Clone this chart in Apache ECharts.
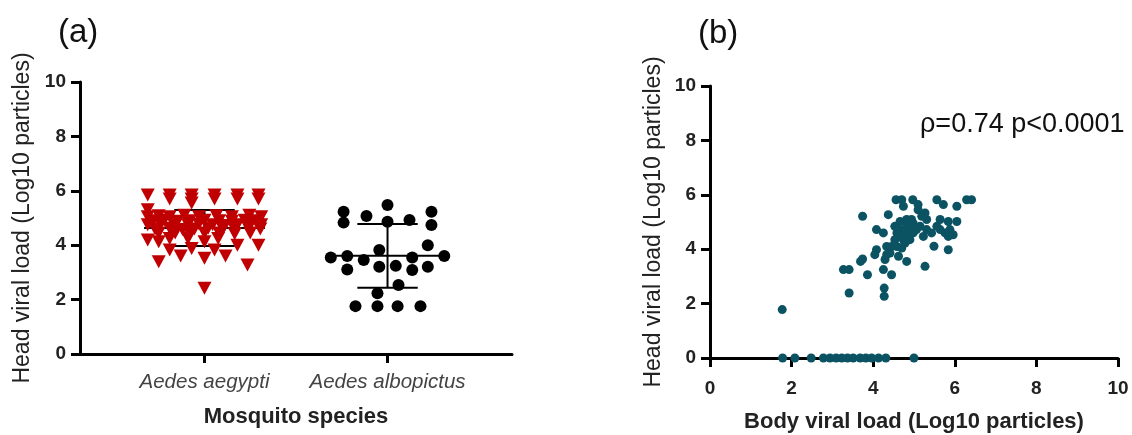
<!DOCTYPE html>
<html>
<head>
<meta charset="utf-8">
<script src="https://cdn.jsdelivr.net/npm/echarts@6/dist/echarts.min.js"></script>
<style>
html,body{margin:0;padding:0;background:#fff;}
#chart{width:1132px;height:435px;}
</style>
</head>
<body>
<div id="chart"></div>
<script>
// ---------- Data ----------
const speciesNames = ['Aedes aegypti', 'Aedes albopictus'];
const yTicks = [0, 2, 4, 6, 8, 10];
const xTicksB = [0, 2, 4, 6, 8, 10];

// Panel (a): Aedes aegypti head viral load (jitter offset in category units, value)
const aegyptiJitter = [
  -0.31,-0.19,-0.07,0.055,0.18,0.295,
  -0.19,-0.07,0.055,0.18,0.295,
  -0.07,
  -0.31,
  -0.31,-0.25,-0.19,-0.11,-0.03,0.065,0.15,0.245,0.31,
  -0.28,-0.22,-0.15,-0.08,0,0.08,0.15,0.22,0.28,
  -0.31,-0.24,-0.16,-0.09,-0.03,0.045,0.11,0.18,0.25,0.31,
  -0.27,-0.19,-0.12,-0.055,0.02,0.1,0.165,0.24,0.305,
  -0.25,-0.16,-0.08,0,0.08,0.165,0.25,
  -0.19,-0.09,0.075,
  -0.31,
  -0.25,0,
  0.18,0.295,
  -0.07,
  -0.19,0.055,
  -0.13,0.115,
  -0.25,0,
  0.235,
  0
];
const aegyptiValues = [
  5.85,5.85,5.85,5.85,5.85,5.85,
  5.7,5.7,5.7,5.7,5.7,
  5.55,
  5.3,
  5.05,5.08,5.05,5.1,5.05,5.08,5.05,5.1,5.05,
  4.9,4.92,4.88,4.9,4.92,4.9,4.88,4.92,4.9,
  4.75,4.78,4.72,4.75,4.78,4.75,4.72,4.75,4.78,4.75,
  4.6,4.62,4.58,4.6,4.62,4.6,4.58,4.62,4.6,
  4.45,4.45,4.42,4.45,4.45,4.42,4.45,
  4.25,4.25,4.25,
  4.19,
  4.13,4.13,
  4.0,4.0,
  3.88,
  3.82,3.82,
  3.6,3.6,
  3.39,3.52,
  3.27,
  2.42
];

// Panel (a): Aedes albopictus head viral load
const albopictusJitter = [
  0,-0.24,-0.24,-0.115,0,0.12,0.24,0.24,
  -0.31,-0.22,-0.13,-0.045,0.22,0.31,0.135,
  -0.22,-0.045,0.045,0.135,0.22,
  0.06,-0.055,
  -0.175,-0.055,0.055,0.18
];
const albopictusValues = [
  5.48,5.23,4.83,5.07,4.86,4.93,5.23,4.74,
  3.55,3.6,3.46,3.82,4.0,3.6,3.55,
  3.11,3.21,3.24,3.09,3.21,
  2.54,2.23,
  1.76,1.76,1.76,1.76
];

// Panel (a): mean and SD
const groupMeans = [4.63, 3.61];
const groupSD = [0.66, 1.17];

// Panel (b): body vs head viral load
const bodyLoad = [
  1.78,2.08,2.48,2.78,2.94,3.09,3.23,3.37,3.51,3.68,3.82,3.96,4.13,4.31,5.0,
  1.77,3.41,4.27,4.27,3.27,3.41,3.86,3.69,3.74,3.74,5.27,5.84,5.49,4.37,
  4.56,4.7,4.97,5.56,6.29,6.41,5.72,6.05,4.74,5.1,
  4.08,4.25,4.08,4.04,4.33,4.41,4.29,4.45,4.25,4.62,4.82,4.58,4.74,4.66,4.82,
  4.98,5.15,5.31,5.43,5.19,5.31,5.27,5.1,5.64,5.84,6.05,5.88,5.76,5.84,5.96,
  5.64,4.74,4.66,4.82,4.9,4.98,4.58,4.53,4.7,4.78,4.9,5.06,4.66,4.82,4.94,
  4.53,4.9,4.78,5.23,5.56,4.45,4.33
];
const headLoad = [
  0,0,0,0,0,0,0,0,0,0,0,0,0,0,0,
  1.78,2.39,2.57,2.27,3.25,3.25,3.06,3.55,3.64,5.21,3.37,3.98,4.11,5.27,
  5.82,5.82,5.82,5.82,5.82,5.82,5.64,5.58,5.58,5.64,
  4.72,4.6,3.98,3.8,4.1,3.86,3.62,3.06,3.25,3.74,3.55,4.1,4.35,4.72,4.84,
  4.96,4.84,4.72,4.6,5.21,5.09,5.33,5.45,5.09,5.02,5.02,4.72,4.6,4.47,4.53,
  4.72,4.6,4.47,4.47,4.6,4.6,4.6,4.35,4.04,4.23,4.35,4.72,5.02,5.09,5.09,
  4.84,4.84,4.72,4.47,4.84,4.1,3.8
];

const corrText = 'ρ=0.74 p<0.0001';

// ---------- Build ----------
const FONT = '"Liberation Sans", Arial, sans-serif';
const aegyptiData = aegyptiValues.map((v, i) => [1 + aegyptiJitter[i], v]);
const albopictusData = albopictusValues.map((v, i) => [2 + albopictusJitter[i], v]);
const errData = groupMeans.map((m, i) => [i + 1, m, groupSD[i]]);
const scatterB = bodyLoad.map((b, i) => [b, headLoad[i]]);

const axisLineStyle = { show: true, lineStyle: { color: '#000', width: 3 } };
const tickStyle = { show: true, inside: false, length: 9, lineStyle: { color: '#000', width: 3 } };
const tickLabel = { color: '#222', fontSize: 19, fontWeight: 'bold', fontFamily: FONT };

const chart = echarts.init(document.getElementById('chart'), null, { renderer: 'canvas' });
chart.setOption({
  backgroundColor: '#fff',
  animation: false,
  title: [
    { text: '(a)', left: 53, top: 11, textStyle: { fontSize: 33, fontWeight: 'normal', color: '#111', fontFamily: FONT } },
    { text: '(b)', left: 693, top: 12, textStyle: { fontSize: 33, fontWeight: 'normal', color: '#111', fontFamily: FONT } },
    { text: corrText, left: 915, top: 106, textStyle: { fontSize: 27, fontWeight: 'normal', color: '#111', fontFamily: FONT } }
  ],
  grid: [
    { left: 80, top: 82, width: 432, height: 272, containLabel: false, outerBoundsMode: 'none' },
    { left: 710, top: 86, width: 408, height: 272, containLabel: false, outerBoundsMode: 'none' }
  ],
  xAxis: [
    {
      gridIndex: 0, type: 'value', min: 0.32, max: 2.68,
      name: 'Mosquito species', nameLocation: 'middle', nameGap: 52,
      nameTextStyle: { fontSize: 22, fontWeight: 'bold', color: '#222', fontFamily: FONT },
      axisLine: axisLineStyle,
      axisTick: Object.assign({}, tickStyle, { customValues: [1, 2] }),
      axisLabel: {
        customValues: [1, 2], margin: 18,
        formatter: v => speciesNames[Math.round(v) - 1] || '',
        color: '#444', fontSize: 20.5, fontStyle: 'italic', fontFamily: FONT
      },
      splitLine: { show: false }
    },
    {
      gridIndex: 1, type: 'value', min: 0, max: 10, interval: 2,
      name: 'Body viral load (Log10 particles)', nameLocation: 'middle', nameGap: 53,
      nameTextStyle: { fontSize: 22, fontWeight: 'bold', color: '#222', fontFamily: FONT },
      axisLine: axisLineStyle, axisTick: tickStyle,
      axisLabel: Object.assign({}, tickLabel, { margin: 21, formatter: v => xTicksB.includes(v) ? String(v) : '' }),
      splitLine: { show: false }
    }
  ],
  yAxis: [
    {
      gridIndex: 0, type: 'value', min: 0, max: 10, interval: 2,
      name: 'Head viral load (Log10 particles)', nameLocation: 'middle', nameGap: 46,
      nameTextStyle: { fontSize: 23, color: '#222', fontFamily: FONT },
      axisLine: axisLineStyle, axisTick: tickStyle,
      axisLabel: Object.assign({}, tickLabel, { margin: 14, formatter: v => yTicks.includes(v) ? String(v) : '' }),
      splitLine: { show: false }
    },
    {
      gridIndex: 1, type: 'value', min: 0, max: 10, interval: 2,
      name: 'Head viral load (Log10 particles)', nameLocation: 'middle', nameGap: 45,
      nameTextStyle: { fontSize: 23, color: '#222', fontFamily: FONT },
      axisLine: axisLineStyle, axisTick: tickStyle,
      axisLabel: Object.assign({}, tickLabel, { margin: 14, formatter: v => yTicks.includes(v) ? String(v) : '' }),
      splitLine: { show: false }
    }
  ],
  series: [
    {
      type: 'custom', xAxisIndex: 0, yAxisIndex: 0, z: 1,
      data: errData,
      renderItem: function (params, api) {
        const x = api.value(0), m = api.value(1), s = api.value(2);
        const meanHalf = 0.33, capHalf = 0.165;
        const st = { stroke: '#000', lineWidth: 2 };
        const seg = (a, b) => ({ type: 'line', shape: { x1: a[0], y1: a[1], x2: b[0], y2: b[1] }, style: st });
        return {
          type: 'group',
          children: [
            seg(api.coord([x - meanHalf, m]), api.coord([x + meanHalf, m])),
            seg(api.coord([x, m - s]), api.coord([x, m + s])),
            seg(api.coord([x - capHalf, m + s]), api.coord([x + capHalf, m + s])),
            seg(api.coord([x - capHalf, m - s]), api.coord([x + capHalf, m - s]))
          ]
        };
      }
    },
    {
      type: 'scatter', xAxisIndex: 0, yAxisIndex: 0, z: 3,
      data: aegyptiData, symbol: 'triangle', symbolRotate: 180, symbolSize: [14, 13],
      itemStyle: { color: '#c00000', opacity: 1 }
    },
    {
      type: 'scatter', xAxisIndex: 0, yAxisIndex: 0, z: 3,
      data: albopictusData, symbol: 'circle', symbolSize: 12,
      itemStyle: { color: '#000', opacity: 1 }
    },
    {
      type: 'scatter', xAxisIndex: 1, yAxisIndex: 1, z: 3,
      data: scatterB, symbol: 'circle', symbolSize: 9,
      itemStyle: { color: '#0b5363', opacity: 1 }
    }
  ]
});
</script>
</body>
</html>
